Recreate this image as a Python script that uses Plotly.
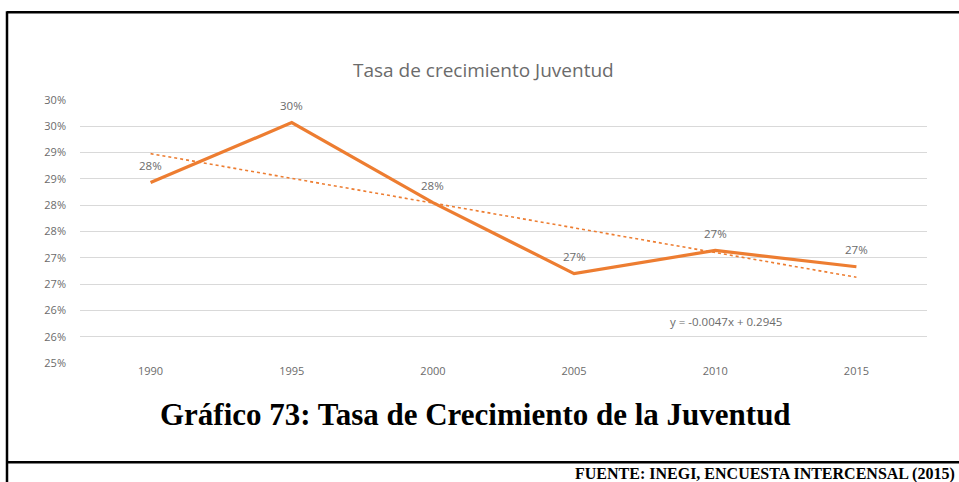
import plotly.graph_objects as go

# ---- data ----
years = [1990, 1995, 2000, 2005, 2010, 2015]
tasa = [0.2843, 0.2957, 0.2805, 0.2670, 0.2714, 0.2683]
trend_slope = -0.0047
trend_intercept = 0.2945
y_ticks = [0.25, 0.255, 0.26, 0.265, 0.27, 0.275, 0.28, 0.285, 0.29, 0.295, 0.30]
y_ticktext = ["25%", "26%", "26%", "27%", "27%", "28%", "28%", "29%", "29%", "30%", "30%"]
chart_title = "Tasa de crecimiento Juventud"
trend_label = "y = -0.0047x + 0.2945"
caption = "Gráfico 73: Tasa de Crecimiento de la Juventud"
source = "FUENTE: INEGI, ENCUESTA INTERCENSAL (2015)"

# ---- layout geometry (pixels) ----
W, H = 959, 482
PL, PR, PT, PB = 80, 927, 100, 363.5


def px(xp):
    return (xp - PL) / (PR - PL)


def py(yp):
    return (PB - yp) / (PB - PT)


ORANGE = "#ED7D31"
GRAY_TXT = "#6b6b6b"
GRID = "#D9D9D9"

trend_vals = [trend_slope * (i + 1) + trend_intercept for i in range(len(years))]

fig = go.Figure()
fig.add_trace(go.Scatter(
    x=years, y=trend_vals, mode="lines",
    line=dict(color=ORANGE, width=1.6, dash="dot"),
    hoverinfo="skip", showlegend=False,
))
fig.add_trace(go.Scatter(
    x=years, y=tasa, mode="lines",
    line=dict(color=ORANGE, width=3.2),
    showlegend=False,
))

annotations = []
for xv, yv in zip(years, tasa):
    annotations.append(dict(
        x=xv, y=yv, xref="x", yref="y", text=f"{yv:.0%}", showarrow=False,
        yshift=17, font=dict(family="Open Sans", size=11.5, color=GRAY_TXT),
    ))

annotations += [
    dict(x=px(483), y=py(70), xref="paper", yref="paper", text=chart_title,
         showarrow=False, xanchor="center", yanchor="middle",
         font=dict(family="Open Sans", size=19, color=GRAY_TXT)),
    dict(x=px(726), y=py(322), xref="paper", yref="paper", text=trend_label,
         showarrow=False, xanchor="center", yanchor="middle",
         font=dict(family="Open Sans", size=11.5, color=GRAY_TXT)),
    dict(x=px(475), y=py(415), xref="paper", yref="paper", text=f"<b>{caption}</b>",
         showarrow=False, xanchor="center", yanchor="middle",
         font=dict(family="Liberation Serif", size=31, color="#000000")),
    dict(x=px(957), y=py(475), xref="paper", yref="paper", text=f"<b>{source}</b>",
         showarrow=False, xanchor="right", yanchor="middle",
         font=dict(family="Liberation Serif", size=16, color="#000000")),
]

shapes = [
    dict(type="line", xref="paper", yref="paper", x0=px(7), x1=px(W + 5), y0=py(12), y1=py(12),
         line=dict(color="#000000", width=2.5)),
    dict(type="line", xref="paper", yref="paper", x0=px(7), x1=px(7), y0=py(11), y1=py(H + 5),
         line=dict(color="#000000", width=2.5)),
    dict(type="line", xref="paper", yref="paper", x0=px(7), x1=px(W + 5), y0=py(463), y1=py(463),
         line=dict(color="#000000", width=2.5)),
]

fig.update_layout(
    width=W, height=H,
    margin=dict(l=PL, r=W - PR, t=PT, b=H - PB),
    paper_bgcolor="white", plot_bgcolor="white",
    showlegend=False,
    annotations=annotations,
    shapes=shapes,
    xaxis=dict(
        range=[1987.5, 2017.5], tickvals=years, ticktext=[str(y) for y in years],
        showgrid=False, zeroline=False, showline=False, ticks="",
        tickfont=dict(family="Open Sans", size=11, color=GRAY_TXT),
    ),
    yaxis=dict(
        range=[0.25, 0.30], tickvals=y_ticks, ticktext=y_ticktext,
        showgrid=True, gridcolor=GRID, gridwidth=1.2, zeroline=False, showline=False,
        ticks="", ticklabelstandoff=13,
        tickfont=dict(family="Open Sans", size=11, color=GRAY_TXT),
    ),
)

fig.write_html(
    "out.html",
    config={"displayModeBar": False},
    post_script="document.body.style.margin='0';document.body.style.overflow='hidden';",
)
